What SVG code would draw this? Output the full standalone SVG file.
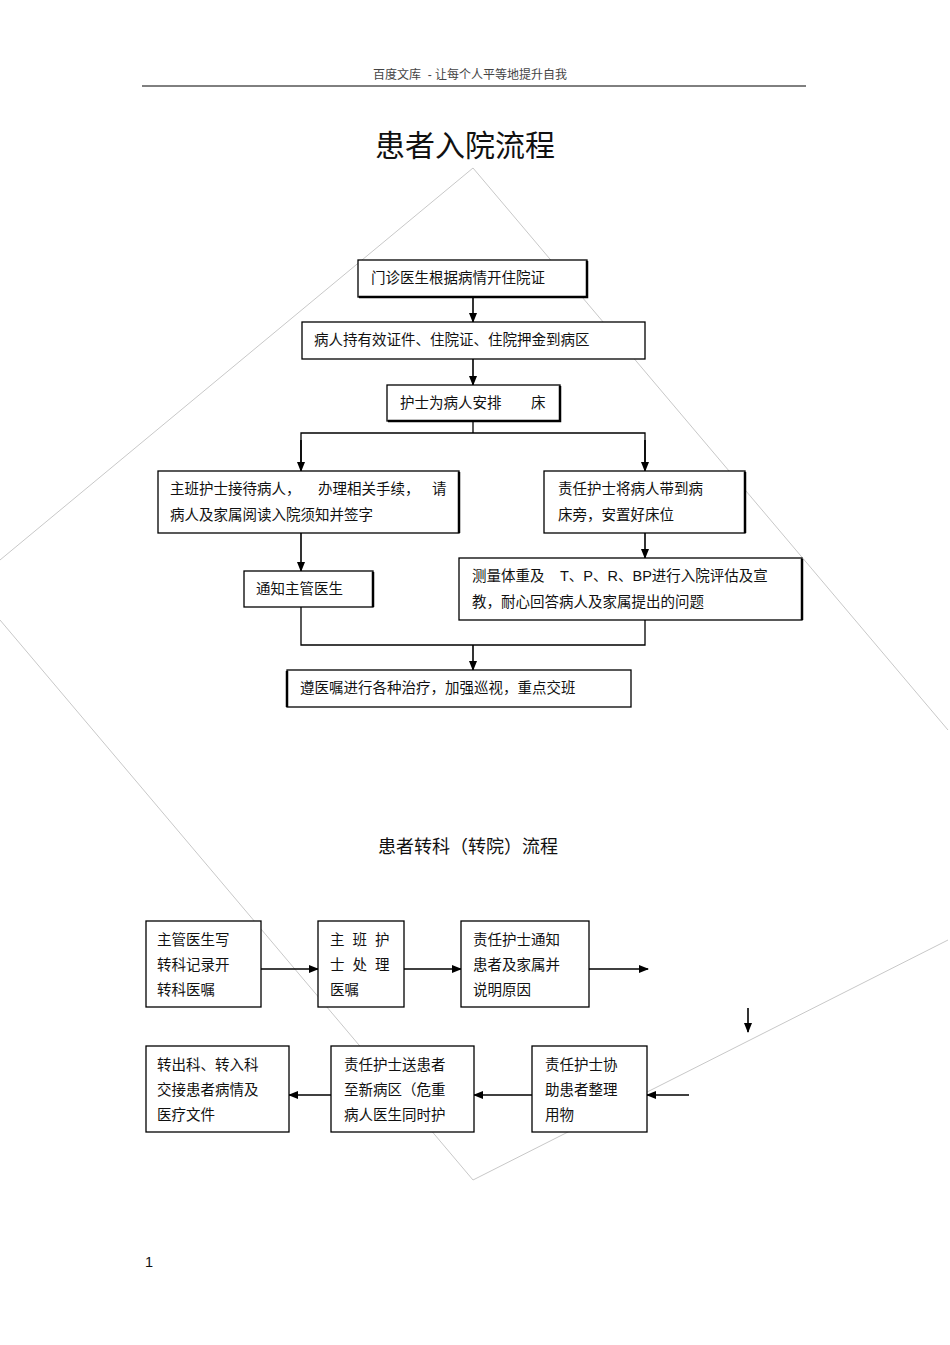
<svg xmlns="http://www.w3.org/2000/svg" width="950" height="1345" viewBox="0 0 950 1345">
<defs>
<marker id="ah" markerWidth="10" markerHeight="10" refX="9" refY="5" orient="auto" markerUnits="userSpaceOnUse"><path d="M0,1 L10,5 L0,9 Z" fill="#000"/></marker>
<style>
text{font-family:"Liberation Sans","Noto Sans CJK SC",sans-serif;fill:#111;font-size:14.5px}
text.hd{font-size:12px;fill:#444}
text.t1{font-size:30px}
text.t2{font-size:18px}
.b{fill:#fff;stroke:#000;stroke-width:1.3}
.s{fill:none;stroke:#000;stroke-width:2.5}
.c{fill:none;stroke:#000;stroke-width:1.3}
.a{fill:none;stroke:#000;stroke-width:1.6;marker-end:url(#ah)}
.w{fill:none;stroke:#c8c8c8;stroke-width:1}
</style>
</defs>
<rect width="950" height="1345" fill="#fff"/>
<g id="watermark">
<path class="w" d="M473,168 L0,560 M0,620 L473,1180 L948,940 M473,168 L948,730"/>
</g>
<g id="header">
<text class="hd" x="470" y="79" text-anchor="middle" xml:space="preserve">百度文库  - 让每个人平等地提升自我</text>
<line x1="142" y1="86" x2="806" y2="86" stroke="#000" stroke-width="1"/>
<text class="t1" x="465" y="156" text-anchor="middle">患者入院流程</text>
<text class="t2" x="468" y="853" text-anchor="middle">患者转科（转院）流程</text>
<text x="145" y="1267">1</text>
</g>
<g id="connectors">
<line class="a" x1="473" y1="297" x2="473" y2="322"/>
<line class="a" x1="473" y1="359" x2="473" y2="385"/>
<polyline class="c" points="473,421 473,433"/>
<polyline class="c" points="301,470 301,433 645,433 645,470"/>
<line class="a" x1="301" y1="440" x2="301" y2="471"/>
<line class="a" x1="645" y1="440" x2="645" y2="471"/>
<line class="a" x1="301" y1="533" x2="301" y2="571"/>
<line class="a" x1="645" y1="533" x2="645" y2="558"/>
<polyline class="c" points="301,607 301,645 645,645 645,620"/>
<line class="a" x1="473" y1="645" x2="473" y2="670"/>
<line class="a" x1="261" y1="969" x2="318" y2="969"/>
<line class="a" x1="404" y1="969" x2="461" y2="969"/>
<line class="a" x1="589" y1="969" x2="648" y2="969"/>
<line class="a" x1="748" y1="1008" x2="748" y2="1032"/>
<line class="a" x1="689" y1="1095" x2="647" y2="1095"/>
<line class="a" x1="532" y1="1095" x2="474" y2="1095"/>
<line class="a" x1="331" y1="1095" x2="289" y2="1095"/>
</g>
<g id="n1"><rect class="b" x="358" y="260" width="229" height="37"/><path class="s" d="M587,261 V297 H359"/><text x="371" y="283">门诊医生根据病情开住院证</text></g>
<g id="n2"><rect class="b" x="302" y="322" width="343" height="37"/><text x="314" y="345">病人持有效证件、住院证、住院押金到病区</text></g>
<g id="n3"><rect class="b" x="387" y="385" width="173" height="36"/><path class="s" d="M560,386 V421 H388"/><text x="400" y="408">护士为病人安排</text><text x="531" y="408">床</text></g>
<g id="n4"><rect class="b" x="158" y="471" width="301" height="62"/><path class="s" d="M459,472 V533"/><text x="170" y="494">主班护士接待病人，</text><text x="318" y="494">办理相关手续，</text><text x="432" y="494">请</text><text x="170" y="520">病人及家属阅读入院须知并签字</text></g>
<g id="n5"><rect class="b" x="544" y="471" width="201" height="62"/><path class="s" d="M745,472 V533"/><text x="558" y="494">责任护士将病人带到病</text><text x="558" y="520">床旁，安置好床位</text></g>
<g id="n6"><rect class="b" x="244" y="571" width="129" height="36"/><path class="s" d="M373,572 V607"/><text x="256" y="594">通知主管医生</text></g>
<g id="n7"><rect class="b" x="459" y="558" width="343" height="62"/><path class="s" d="M802,559 V620"/><text x="472" y="581">测量体重及</text><text x="560" y="581">T、P、R、BP进行入院评估及宣</text><text x="472" y="607">教，耐心回答病人及家属提出的问题</text></g>
<g id="n8"><rect class="b" x="287" y="670" width="344" height="37"/><path class="s" d="M287,671 V707"/><text x="300" y="693">遵医嘱进行各种治疗，加强巡视，重点交班</text></g>
<g id="c1"><rect class="b" x="146" y="921" width="115" height="86"/><text x="157" y="945">主管医生写</text><text x="157" y="970">转科记录开</text><text x="157" y="995">转科医嘱</text></g>
<g id="c2"><rect class="b" x="318" y="921" width="86" height="86"/><text x="330" y="945" xml:space="preserve">主  班  护</text><text x="330" y="970" xml:space="preserve">士  处  理</text><text x="330" y="995">医嘱</text></g>
<g id="c3"><rect class="b" x="461" y="921" width="128" height="86"/><text x="473" y="945">责任护士通知</text><text x="473" y="970">患者及家属并</text><text x="473" y="995">说明原因</text></g>
<g id="c4"><rect class="b" x="146" y="1046" width="143" height="86"/><text x="157" y="1070">转出科、转入科</text><text x="157" y="1095">交接患者病情及</text><text x="157" y="1120">医疗文件</text></g>
<g id="c5"><rect class="b" x="331" y="1046" width="143" height="86"/><text x="344" y="1070">责任护士送患者</text><text x="344" y="1095">至新病区（危重</text><text x="344" y="1120">病人医生同时护</text></g>
<g id="c6"><rect class="b" x="532" y="1046" width="115" height="86"/><text x="545" y="1070">责任护士协</text><text x="545" y="1095">助患者整理</text><text x="545" y="1120">用物</text></g>
</svg>
